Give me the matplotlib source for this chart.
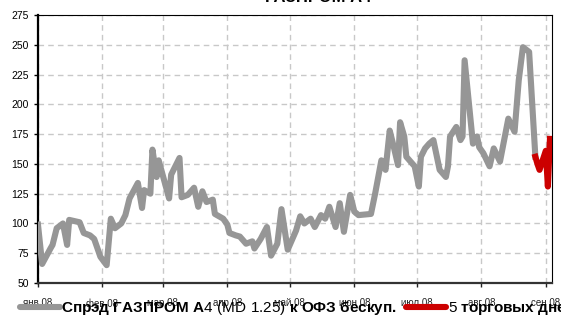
import matplotlib
matplotlib.use('Agg')
import matplotlib.pyplot as plt
import pandas as pd

# данные
spread_dates = [
    '2008-01-01', '2008-01-03', '2008-01-07', '2008-01-08', '2008-01-10', '2008-01-13',
    '2008-01-15', '2008-01-16', '2008-01-21', '2008-01-23', '2008-01-26', '2008-01-28',
    '2008-01-31', '2008-02-03', '2008-02-05', '2008-02-07', '2008-02-10', '2008-02-12',
    '2008-02-14', '2008-02-18', '2008-02-20', '2008-02-21', '2008-02-24', '2008-02-25',
    '2008-02-27', '2008-02-28', '2008-03-04', '2008-03-05', '2008-03-09', '2008-03-10',
    '2008-03-13', '2008-03-16', '2008-03-18', '2008-03-20', '2008-03-22', '2008-03-25',
    '2008-03-26', '2008-03-28', '2008-03-30', '2008-04-01', '2008-04-02', '2008-04-05',
    '2008-04-07', '2008-04-10', '2008-04-13', '2008-04-14', '2008-04-17', '2008-04-20',
    '2008-04-22', '2008-04-25', '2008-04-27', '2008-04-30', '2008-05-04', '2008-05-06',
    '2008-05-08', '2008-05-11', '2008-05-13', '2008-05-16', '2008-05-18', '2008-05-20',
    '2008-05-23', '2008-05-25', '2008-05-27', '2008-05-30', '2008-06-01', '2008-06-03',
    '2008-06-09', '2008-06-11', '2008-06-14', '2008-06-16', '2008-06-18', '2008-06-20',
    '2008-06-22', '2008-06-23', '2008-06-25', '2008-06-26', '2008-06-30', '2008-07-02',
    '2008-07-03', '2008-07-05', '2008-07-07', '2008-07-09', '2008-07-12', '2008-07-15',
    '2008-07-16', '2008-07-17', '2008-07-20', '2008-07-22', '2008-07-23', '2008-07-24',
    '2008-07-28', '2008-07-30', '2008-07-31', '2008-08-02', '2008-08-05', '2008-08-07',
    '2008-08-10', '2008-08-12', '2008-08-14', '2008-08-17', '2008-08-19', '2008-08-21',
    '2008-08-24', '2008-08-27',
]
spread = [
    99, 66, 79, 82, 96, 100,
    82, 103, 101, 92, 90, 87,
    72, 65, 104, 96, 100, 107,
    121, 134, 113, 128, 125, 162,
    139, 153, 121, 141, 155, 122,
    124, 130, 114, 127, 118, 120,
    108, 106, 104, 99, 92, 90,
    89, 83, 85, 79, 87, 97,
    73, 83, 112, 78, 94, 106,
    100, 104, 97, 107, 104, 114,
    97, 117, 93, 124, 110, 107,
    108, 125, 153, 145, 178, 164,
    149, 185, 173, 156, 148, 131,
    156, 163, 167, 170, 145, 139,
    148, 173, 181, 170, 173, 237,
    167, 173, 164, 159, 148, 163,
    152, 170, 188, 177, 220, 248,
    244, 156,
]

last5_dates = ['2008-08-27', '2008-08-28', '2008-08-29', '2008-09-01', '2008-09-02', '2008-09-03']
last5 = [156, 150, 145, 161, 131, 171]

month_starts = ['2008-01-01', '2008-02-01', '2008-03-01', '2008-04-01', '2008-05-01',
                '2008-06-01', '2008-07-01', '2008-08-01', '2008-09-01']
month_labels = ['янв 08', 'фев 08', 'мар 08', 'апр 08', 'май 08',
                'июн 08', 'июл 08', 'авг 08', 'сен 08']
y_ticks = [50, 75, 100, 125, 150, 175, 200, 225, 250, 275]

title = 'ГАЗПРОМ А4'
label_spread = r'Спрэд ГАЗПРОМ А$\mathrm{4\ (MD\ 1.25)}$ к ОФЗ бескуп.'
label_last5 = r'$\mathrm{5}$ торговых дней'

GRAY = '#969696'
RED = '#cc0000'

plt.rcParams['font.family'] = ['Liberation Sans', 'DejaVu Sans']
plt.rcParams['mathtext.fontset'] = 'custom'
plt.rcParams['mathtext.rm'] = 'Liberation Sans'


def main():
    fig = plt.figure(figsize=(5.61, 3.18), dpi=100)
    ax = fig.add_axes([0.0677, 0.110, 0.9163, 0.8428])

    x1 = pd.to_datetime(spread_dates)
    x2 = pd.to_datetime(last5_dates)
    ax.plot(x1, spread, color=GRAY, lw=4.4, label=label_spread, zorder=3)
    ax.plot(x2, last5, color=RED, lw=4.4, label=label_last5, zorder=4)

    ax.set_xlim(pd.Timestamp('2008-01-01'), pd.Timestamp('2008-09-04'))
    ax.set_ylim(50, 275)
    ax.set_yticks(y_ticks)
    ax.set_xticks(pd.to_datetime(month_starts))
    ax.set_xticklabels(month_labels, fontsize=7)
    for t in ax.get_yticklabels():
        t.set_fontsize(7.5)

    ax.tick_params(axis='y', length=3, width=1, pad=3.5, colors='black')
    ax.tick_params(axis='x', length=3, width=1, pad=8, colors='#222222')

    ax.grid(True, color='#c8c8c8', linestyle=(0, (4, 3)), linewidth=1.0, zorder=1)
    ax.set_axisbelow(True)

    ax.spines['left'].set_linewidth(1.6)
    ax.spines['bottom'].set_linewidth(1.6)
    ax.spines['bottom'].set_color('#333333')
    ax.spines['top'].set_linewidth(0.8)
    ax.spines['right'].set_linewidth(0.8)

    fig.text(0.567, 1 - 2.2 / 318, title, ha='center', va='baseline',
             fontsize=12, fontweight='bold')

    leg = fig.legend(loc='center left', bbox_to_anchor=(0.036, 0.030), ncol=2,
                     frameon=False, handlelength=2.6, handletextpad=0.1,
                     columnspacing=0.6, borderpad=0, borderaxespad=0,
                     prop={'size': 11, 'weight': 'bold'})
    for line in leg.get_lines():
        line.set_linewidth(4.4)
        line.set_solid_capstyle('round')

    fig.savefig('out.png', dpi=100)


if __name__ == '__main__':
    main()
